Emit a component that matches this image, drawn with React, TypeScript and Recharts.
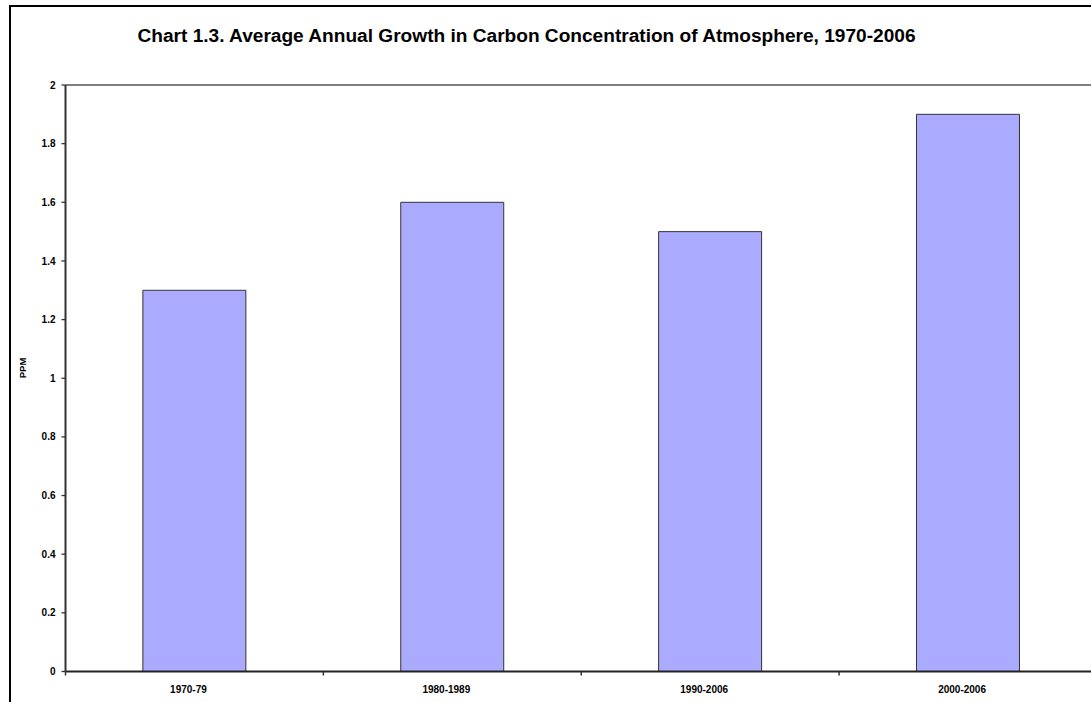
import { Bar, BarChart, ReferenceLine, XAxis, YAxis } from 'recharts'

const periods = ['1970-79', '1980-1989', '1990-2006', '2000-2006']
const growthPpm = [1.3, 1.6, 1.5, 1.9]
const ppmTicks = [0, 0.2, 0.4, 0.6, 0.8, 1, 1.2, 1.4, 1.6, 1.8, 2]

const data = periods.map((period, i) => ({ period, ppm: growthPpm[i] }))

const FONT = '"Liberation Sans", Arial, Helvetica, sans-serif'

type TickProps = {
  x?: number
  y?: number
  index?: number
  payload?: { value: string; offset?: number }
}

// category label plus the short marks on the category boundaries
function PeriodTick({ x = 0, y = 0, index = 0, payload }: TickProps) {
  const half = payload?.offset ?? 0
  const axisY = y - 6
  return (
    <g>
      {index === 0 && (
        <line x1={x - half} x2={x - half} y1={axisY} y2={axisY + 4} stroke="#333" strokeWidth={1.5} />
      )}
      <line x1={x + half} x2={x + half} y1={axisY} y2={axisY + 4} stroke="#333" strokeWidth={1.5} />
      <text
        x={x - 6}
        y={y + 15}
        textAnchor="middle"
        fontFamily={FONT}
        fontWeight="bold"
        fontSize={10}
        fill="#000"
      >
        {payload?.value}
      </text>
    </g>
  )
}

export default function App() {
  return (
    <div
      style={{
        position: 'fixed',
        left: 0,
        top: 0,
        width: 1091,
        height: 702,
        overflow: 'hidden',
        background: '#fff',
      }}
    >
      <div
        style={{
          position: 'absolute',
          left: 9,
          top: 5,
          width: 1200,
          height: 800,
          border: '2px solid #000',
        }}
      />
      <div
        style={{
          position: 'absolute',
          left: 0,
          top: 25,
          width: 1053,
          textAlign: 'center',
          fontFamily: FONT,
          fontWeight: 'bold',
          fontSize: 19.1,
          color: '#000',
          whiteSpace: 'nowrap',
        }}
      >
        Chart 1.3. Average Annual Growth in Carbon Concentration of Atmosphere, 1970-2006
      </div>
      <div style={{ position: 'absolute', left: 0, top: 0 }}>
        <BarChart
          width={1110}
          height={702}
          data={data}
          margin={{ top: 85, right: 13, bottom: 10.5, left: 0 }}
          barCategoryGap="30%"
        >
          <ReferenceLine y={2} stroke="#808080" strokeWidth={2} ifOverflow="extendDomain" />
          <XAxis
            dataKey="period"
            height={20}
            tickLine={false}
            tickSize={4}
            tickMargin={2}
            axisLine={{ stroke: '#222', strokeWidth: 2 }}
            tick={<PeriodTick />}
            interval={0}
          />
          <YAxis
            width={65.5}
            domain={[0, 2]}
            ticks={ppmTicks}
            tickFormatter={(v: number) => String(v)}
            tickSize={4}
            tickMargin={6}
            axisLine={{ stroke: '#333', strokeWidth: 2 }}
            tickLine={{ stroke: '#333', strokeWidth: 1.3 }}
            tick={{ fontFamily: FONT, fontWeight: 'bold', fontSize: 10, fill: '#000' }}
            label={{
              value: 'PPM',
              angle: -90,
              position: 'insideLeft',
              offset: 23,
              style: { fontFamily: FONT, fontWeight: 'bold', fontSize: 9.5, fill: '#000' },
            }}
          />
          <Bar dataKey="ppm" fill="#AAAAFF" stroke="#333" strokeWidth={1} isAnimationActive={false} />
        </BarChart>
      </div>
    </div>
  )
}
